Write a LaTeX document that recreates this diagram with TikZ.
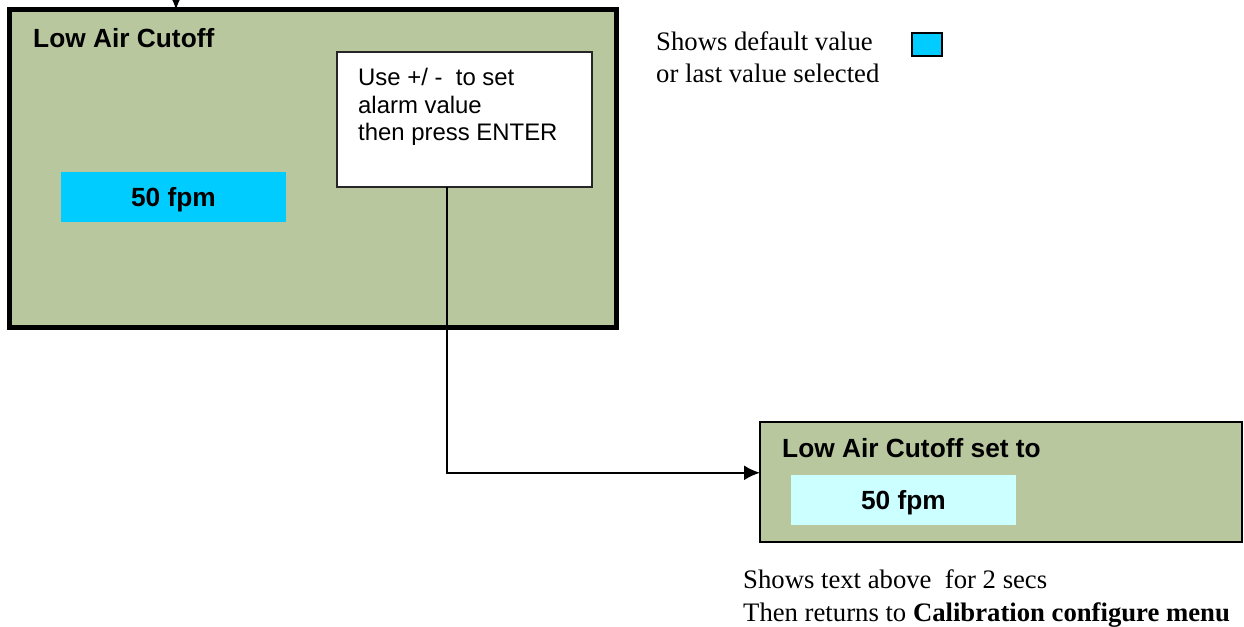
\documentclass[tikz,border=0pt]{standalone}
\usepackage{fontspec}
\setmainfont{Liberation Serif}
\newfontfamily\arialf{Liberation Sans}
\usetikzlibrary{arrows.meta,calc}
\definecolor{olivebg}{RGB}{185,199,159}
\definecolor{valblue}{RGB}{0,204,255}
\definecolor{valcyan}{RGB}{204,255,255}
\tikzset{
  box/.style={rectangle, inner sep=0pt, outer sep=0pt},
  panel/.style={box, fill=olivebg, draw=black},
  valrect/.style={box},
  boldtxt/.style={inner sep=0pt, font=\arialf\bfseries\fontsize{26.4}{30}\selectfont},
  plaintxt/.style={inner sep=0pt, align=left, font=\arialf\fontsize{24}{27.5}\selectfont},
  serif/.style={inner sep=0pt, align=left, font=\fontsize{26.8}{32.5}\selectfont},
  conn/.style={line width=2bp, draw=black},
  tip/.style={-{Latex[length=16bp,width=15bp]}}
}
\begin{document}
\begin{tikzpicture}[x=1bp,y=-1bp]
\useasboundingbox (0,0) rectangle (1244,627);
\clip (0,0) rectangle (1244,627);
% main screen
\node[panel, line width=5bp, minimum width=607bp, minimum height=318bp] (main) at (313,168.5) {};
\node[boldtxt, anchor=base west] (mtitle) at (33,47.3) {Low Air Cutoff};
\node[valrect, fill=valblue, minimum width=225bp, minimum height=50bp] (mval) at (173.5,197) {};
\node[boldtxt, anchor=base] (mvaltxt) at (173.5,207) {50 fpm};
% instruction box
\node[box, fill=white, draw=black!85, line width=1.5bp, minimum width=255bp, minimum height=135bp] (wbox) at (464.5,119.5) {};
\node[plaintxt, anchor=base west] (wtext) at (358,140.7) {Use +/ -\ \ to set\\alarm value\\then press ENTER};
% legend
\node[serif, anchor=base west] (legtxt) at (656,83) {Shows default value\\or last value selected};
\node[box, fill=valblue, draw=black, line width=1.5bp, minimum width=30bp, minimum height=23bp] (legsq) at (927,44.5) {};
% result screen
\node[panel, line width=2bp, minimum width=481.5bp, minimum height=119.5bp] (sbox) at (1000.75,481.75) {};
\node[boldtxt, anchor=base west] (stitle) at (782,457.7) {Low Air Cutoff set to};
\node[valrect, fill=valcyan, minimum width=225bp, minimum height=50bp] (sval) at (903.5,500) {};
\node[boldtxt, anchor=base] (svaltxt) at (903.5,509) {50 fpm};
% bottom note
\node[serif, anchor=base west] (note) at (743,621) {Shows text above\ \ for 2 secs\\Then returns to \textbf{Calibration configure menu}};
% connectors
\coordinate (wout) at ($(wbox.south west)!0.43!(wbox.south east)$);
\coordinate (sin) at ($(sbox.north west)!0.425!(sbox.south west)$);
\draw[conn, tip] (wout) -- (wout |- sin) -- (sin);
\coordinate (topin) at (176,-30);
\draw[conn, tip] (topin) -- (topin |- main.north);
\end{tikzpicture}
\end{document}
